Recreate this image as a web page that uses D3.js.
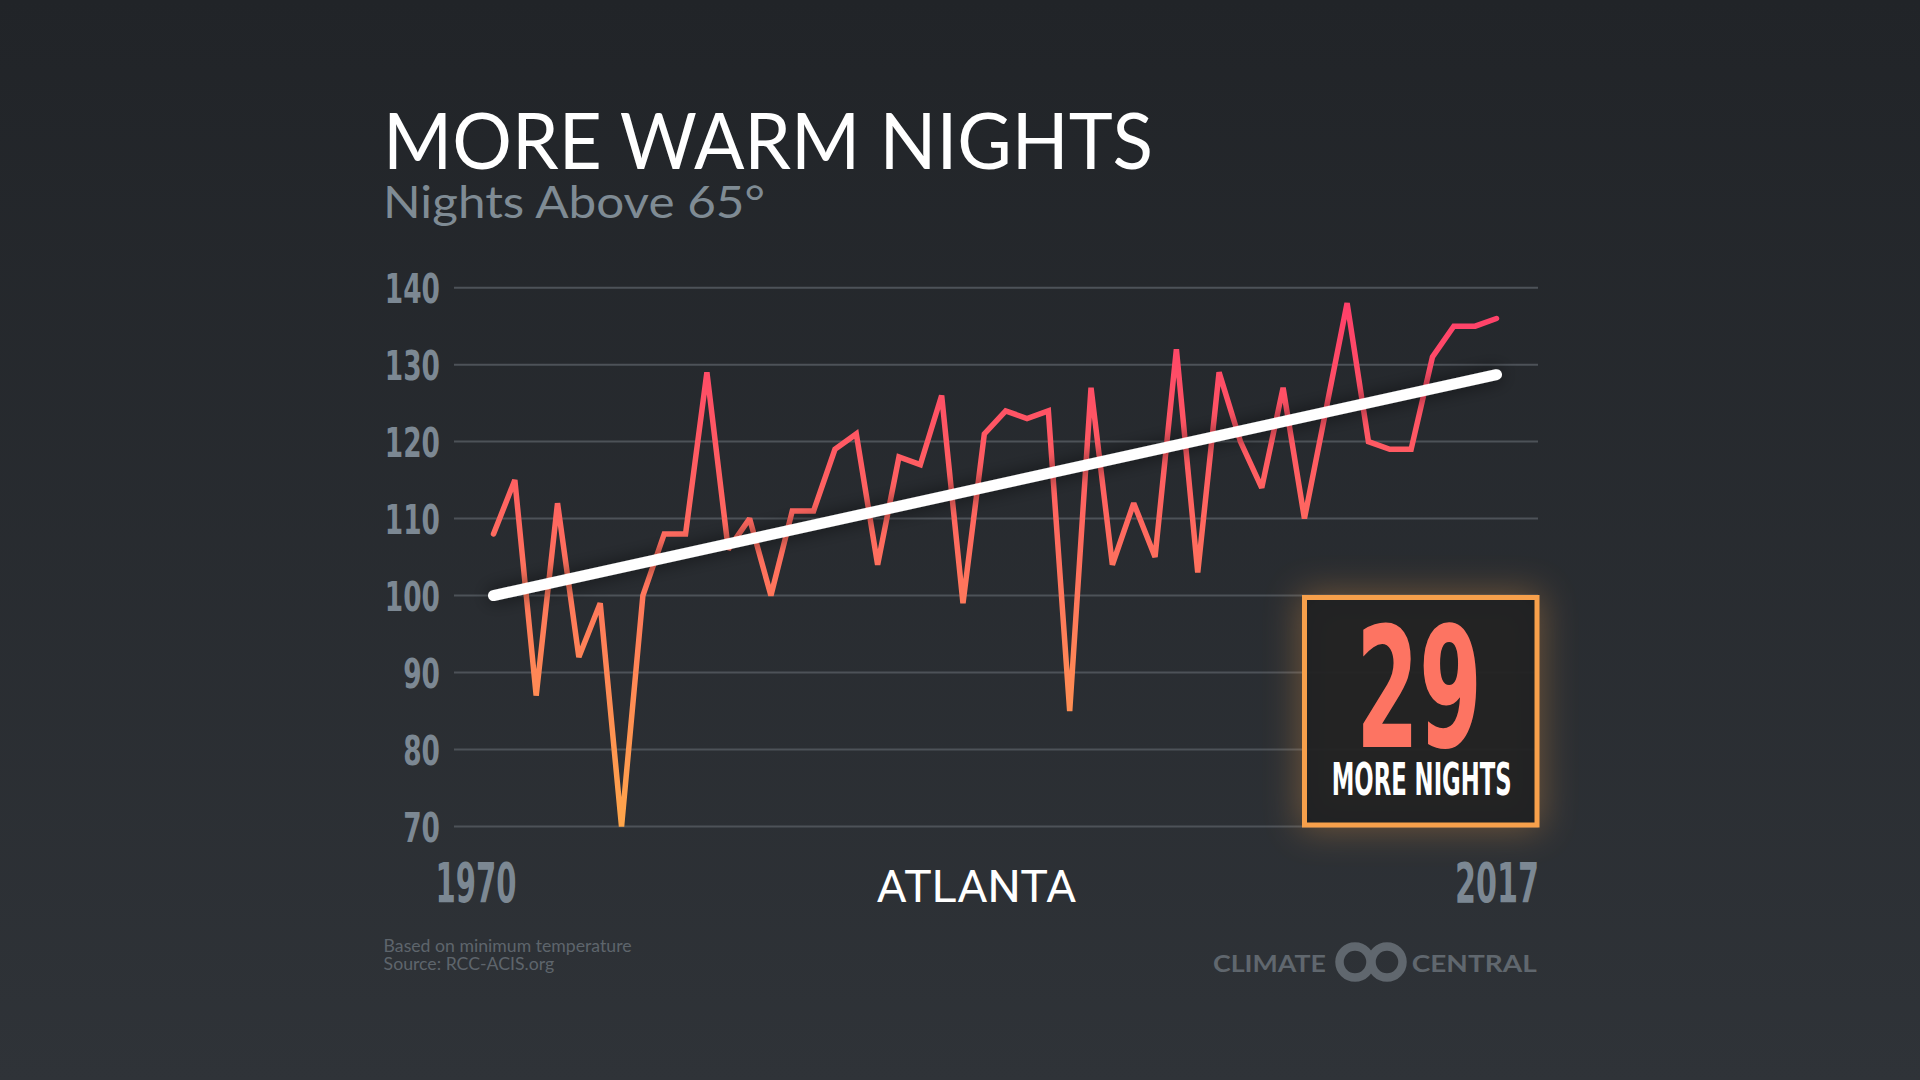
<!DOCTYPE html>
<html>
<head>
<meta charset="utf-8">
<script src="https://cdn.jsdelivr.net/npm/d3@7"></script>
<style>
  html, body { margin: 0; padding: 0; background: #25282c; }
  svg { display: block; }
</style>
</head>
<body>
<svg id="chart" width="1920" height="1080"></svg>
<script>
// ---------- data ----------
const years = [1970,1971,1972,1973,1974,1975,1976,1977,1978,1979,
               1980,1981,1982,1983,1984,1985,1986,1987,1988,1989,
               1990,1991,1992,1993,1994,1995,1996,1997,1998,1999,
               2000,2001,2002,2003,2004,2005,2006,2007,2008,2009,
               2010,2011,2012,2013,2014,2015,2016,2017];
const nights = [108,115,87,112,92,99,70,100,108,108,
                129,106,110,100,111,111,119,121,104,118,
                117,126,99,121,124,123,124,85,127,104,
                112,105,132,103,129,120,114,127,110,124,
                138,120,119,119,131,135,135,136];
const trendYears = [1970, 2017];
const trendValues = [100, 128.7];
const yTicks = [70, 80, 90, 100, 110, 120, 130, 140];
const xTickLabels = ["1970", "2017"];
const title = "MORE WARM NIGHTS";
const subtitle = "Nights Above 65°";
const city = "ATLANTA";
const bigNumber = "29";
const bigLabel = "MORE NIGHTS";
const notes = ["Based on minimum temperature", "Source: RCC-ACIS.org"];
const logoWords = ["CLIMATE", "CENTRAL"];

// ---------- setup ----------
const svg = d3.select("#chart");
const defs = svg.append("defs");

const bg = defs.append("linearGradient").attr("id", "bg")
  .attr("x1", 0).attr("y1", 0).attr("x2", 0).attr("y2", 1);
bg.append("stop").attr("offset", "0%").attr("stop-color", "#212428");
bg.append("stop").attr("offset", "100%").attr("stop-color", "#2f3338");
svg.append("rect").attr("width", 1920).attr("height", 1080).attr("fill", "url(#bg)");

const x = d3.scaleLinear().domain([1970, 2017]).range([493.5, 1496.5]);
const y = d3.scaleLinear().domain([70, 140]).range([826.4, 287.7]);

const condensed = "'Liberation Sans Narrow', 'DejaVu Sans Condensed', Roboto, sans-serif";

// ---------- grid ----------
svg.append("g").selectAll("line").data(yTicks).join("line")
  .attr("x1", 454).attr("x2", 1538)
  .attr("y1", d => y(d)).attr("y2", d => y(d))
  .attr("stroke", "#4d5258").attr("stroke-width", 2);

// y axis labels via d3 axis
const yAxis = svg.append("g").attr("transform", "translate(440,0)")
  .call(d3.axisLeft(y).tickValues(yTicks).tickSize(0).tickPadding(0));
yAxis.select(".domain").remove();
yAxis.selectAll("text")
  .attr("fill", "#7c8893")
  .attr("font-family", condensed)
  .attr("font-weight", 700)
  .attr("font-size", 41)
  .attr("dy", null)
  .attr("y", 15)
  .attr("textLength", d => String(d).length * 18.4)
  .attr("lengthAdjust", "spacingAndGlyphs");

// ---------- box glow ----------
const glow = defs.append("filter").attr("id", "glow")
  .attr("x", "-50%").attr("y", "-50%").attr("width", "200%").attr("height", "200%");
glow.append("feGaussianBlur").attr("stdDeviation", 18);

// ---------- data line ----------
const lg = defs.append("linearGradient").attr("id", "lineGrad")
  .attr("gradientUnits", "userSpaceOnUse")
  .attr("x1", 0).attr("x2", 0).attr("y1", y(70)).attr("y2", y(140));
[["0%", "#ffa64b"], ["25%", "#ff8b55"], ["50%", "#ff6f5e"], ["75%", "#ff5564"], ["100%", "#ff3d6b"]]
  .forEach(([o, c]) => lg.append("stop").attr("offset", o).attr("stop-color", c));

const line = d3.line().x((d, i) => x(years[i])).y(d => y(d));
svg.append("path").datum(nights)
  .attr("d", line)
  .attr("fill", "none")
  .attr("stroke", "url(#lineGrad)")
  .attr("stroke-width", 5.5)
  .attr("stroke-linejoin", "miter")
  .attr("stroke-miterlimit", 2.2)
  .attr("stroke-linecap", "round");

// ---------- trend line ----------
const shadow = defs.append("filter").attr("id", "tshadow")
  .attr("x", "-10%").attr("y", "-200%").attr("width", "120%").attr("height", "500%");
shadow.append("feDropShadow").attr("dx", 0).attr("dy", 0).attr("stdDeviation", 9)
  .attr("flood-color", "#000").attr("flood-opacity", 0.6);
const tline = d3.line().x((d, i) => x(trendYears[i])).y(d => y(d));
svg.append("path").datum(trendValues)
  .attr("d", tline)
  .attr("fill", "none")
  .attr("stroke", "#ffffff")
  .attr("stroke-width", 11)
  .attr("stroke-linecap", "round")
  .attr("filter", "url(#tshadow)");

// ---------- box ----------
svg.append("rect")
  .attr("x", 1300).attr("y", 593).attr("width", 241).attr("height", 236)
  .attr("fill", "#f5a04a").attr("opacity", 0.35).attr("filter", "url(#glow)");
svg.append("rect")
  .attr("x", 1304.5).attr("y", 597.5).attr("width", 232.5).attr("height", 227.5)
  .attr("fill", "#1d1f21").attr("fill-opacity", 0.93)
  .attr("stroke", "#f7a04b").attr("stroke-width", 5);
svg.append("text").text(bigNumber)
  .attr("x", 1419).attr("y", 746.7)
  .attr("text-anchor", "middle")
  .attr("fill", "#fd7462")
  .attr("font-family", condensed).attr("font-weight", 700)
  .attr("font-size", 168)
  .attr("textLength", 126).attr("lengthAdjust", "spacingAndGlyphs");
svg.append("text").text(bigLabel)
  .attr("x", 1421.7).attr("y", 795)
  .attr("text-anchor", "middle")
  .attr("fill", "#ffffff")
  .attr("font-family", condensed).attr("font-weight", 700)
  .attr("font-size", 44)
  .attr("textLength", 180).attr("lengthAdjust", "spacingAndGlyphs");

// ---------- titles ----------
svg.append("text").text(title)
  .attr("x", 383).attr("y", 169)
  .attr("fill", "#ffffff")
  .attr("font-family", "Lato, 'Open Sans', sans-serif").attr("font-weight", 400)
  .attr("font-size", 78)
  .attr("textLength", 770).attr("lengthAdjust", "spacingAndGlyphs");
svg.append("text").text(subtitle)
  .attr("x", 383).attr("y", 218)
  .attr("fill", "#7f8b94")
  .attr("font-family", "Lato, 'Open Sans', sans-serif").attr("font-weight", 400)
  .attr("font-size", 44)
  .attr("textLength", 382).attr("lengthAdjust", "spacingAndGlyphs");

// ---------- x labels ----------
svg.append("text").text(xTickLabels[0])
  .attr("x", 435.4).attr("y", 902.3)
  .attr("fill", "#7c8893")
  .attr("font-family", condensed).attr("font-weight", 700)
  .attr("font-size", 55)
  .attr("textLength", 81).attr("lengthAdjust", "spacingAndGlyphs");
svg.append("text").text(xTickLabels[1])
  .attr("x", 1539).attr("y", 902.3)
  .attr("text-anchor", "end")
  .attr("fill", "#7c8893")
  .attr("font-family", condensed).attr("font-weight", 700)
  .attr("font-size", 55)
  .attr("textLength", 84).attr("lengthAdjust", "spacingAndGlyphs");
svg.append("text").text(city)
  .attr("x", 876.5).attr("y", 901.7)
  .attr("fill", "#ffffff")
  .attr("font-family", "Roboto, 'Liberation Sans', sans-serif").attr("font-weight", 400)
  .attr("font-size", 45)
  .attr("textLength", 200).attr("lengthAdjust", "spacingAndGlyphs");

// ---------- footer ----------
svg.append("g").selectAll("text").data(notes).join("text")
  .text(d => d)
  .attr("x", 383.6)
  .attr("y", (d, i) => 951.7 + i * 18.3)
  .attr("fill", "#5e656c")
  .attr("font-family", "Lato, 'Open Sans', sans-serif")
  .attr("font-size", 17.5)
  .attr("textLength", (d, i) => [248, 170.6][i]).attr("lengthAdjust", "spacingAndGlyphs");

// ---------- logo ----------
const logoColor = "#60676e";
svg.append("text").text(logoWords[0])
  .attr("x", 1213).attr("y", 971.7)
  .attr("fill", logoColor)
  .attr("font-family", "Lato, 'Open Sans', sans-serif").attr("font-weight", 700)
  .attr("font-size", 23.5)
  .attr("textLength", 113).attr("lengthAdjust", "spacingAndGlyphs");
svg.append("text").text(logoWords[1])
  .attr("x", 1411.7).attr("y", 971.7)
  .attr("fill", logoColor)
  .attr("font-family", "Lato, 'Open Sans', sans-serif").attr("font-weight", 700)
  .attr("font-size", 23.5)
  .attr("textLength", 125).attr("lengthAdjust", "spacingAndGlyphs");
svg.append("g").selectAll("circle").data([1355, 1387]).join("circle")
  .attr("cx", d => d).attr("cy", 962)
  .attr("r", 15.5)
  .attr("fill", "none")
  .attr("stroke", logoColor)
  .attr("stroke-width", 8.5);
</script>
</body>
</html>
